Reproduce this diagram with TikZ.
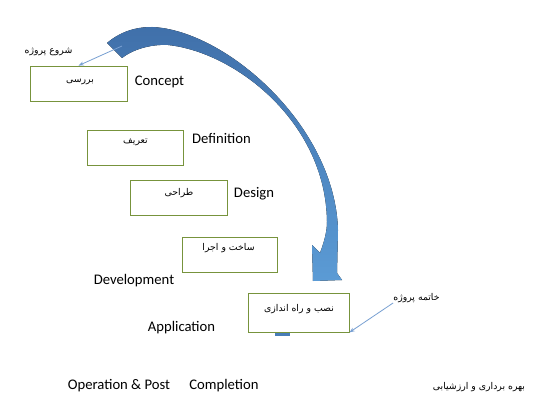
\documentclass[tikz,border=0pt]{standalone}
\usepackage{fontspec}
\setmainfont{Carlito}
\TeXXeTstate=1
\newfontfamily\arabicfont[Script=Arabic]{DejaVu Sans}
\usetikzlibrary{arrows.meta}
\definecolor{boxgreen}{RGB}{119,147,60}
\definecolor{arrowdark}{RGB}{64,112,170}
\definecolor{arrowlight}{RGB}{91,155,213}
\definecolor{calloutblue}{RGB}{120,160,210}
\newcommand{\fa}[1]{{\arabicfont\fontsize{7}{8}\selectfont\beginR #1\endR}}

\begin{document}
\begin{tikzpicture}[x=0.75pt,y=-0.75pt]
	\tikzstyle{every node}+=[inner sep=0pt]
	\tikzstyle{phase}=[draw=boxgreen, line width=0.6pt, rectangle, minimum height=26.25pt]
	\tikzstyle{eng}=[font=\fontsize{11}{13}\selectfont]
	\tikzstyle{callout}=[draw=calloutblue, line width=0.6pt, -{Stealth[length=4pt,width=3pt]}]
	\fill [white] (0,0) rectangle (534,420);
	% curved arrow
	\fill [top color=arrowdark, bottom color=arrowlight]
		(107,43) .. controls (120,32) and (135,27) .. (152,27)
		.. controls (225,30) and (335,125) .. (338,230)
		-- (337,273) -- (342,280) -- (313,281) -- (312,245) -- (320,253)
		.. controls (324,242) and (327,232) .. (327,222)
		.. controls (326,122) and (235,52) .. (168,45)
		.. controls (150,44) and (132,50) .. (122,58)
		-- cycle;
	\fill [arrowdark!70!arrowlight] (275,332.5) rectangle (290,335.5);
	\coordinate (tail) at (122,46);
	% boxes
	\node [phase, minimum width=72.75pt] (b1) at (78.5,83.5) {};
	\node [phase, minimum width=72pt] (b2) at (135,147.5) {};
	\node [phase, minimum width=72.75pt] (b3) at (178.5,197.5) {};
	\node [phase, minimum width=71.25pt] (b4) at (229.5,254.5) {};
	\node [phase, minimum width=75.75pt, minimum height=29.25pt] (b5) at (298.5,312.5) {};
	\node (t1) at (80,82) {\fa{بررسی}};
	\node (t2) at (135.5,142) {\fa{تعریف}};
	\node (t3) at (179,193) {\fa{طراحی}};
	\node (t4) at (228.5,248) {\fa{ساخت و اجرا}};
	\node (t5) at (299,309) {\fa{نصب و راه اندازی}};
	% english names
	\node [eng] (concept) at (159.5,82) {Concept};
	\node [eng] (definition) at (221.5,138) {Definition};
	\node [eng] (design) at (254,194) {Design};
	\node [eng] (development) at (134,281) {Development};
	\node [eng] (application) at (181.5,328) {Application};
	\node [eng] (operation) at (119,386) {Operation \& Post};
	\node [eng] (completion) at (224,386) {Completion};
	\node (evaluation) at (479,387) {\fa{بهره برداری و ارزشیابی}};
	% start / end
	\node (start) at (48.5,52) {\fa{شروع پروژه}};
	\node (finish) at (416.5,298) {\fa{خاتمه پروژه}};
	\draw [callout] (tail) -- (b1.north);
	\draw [callout] (finish.south west) -- (b5.south east);
\end{tikzpicture}
\end{document}
